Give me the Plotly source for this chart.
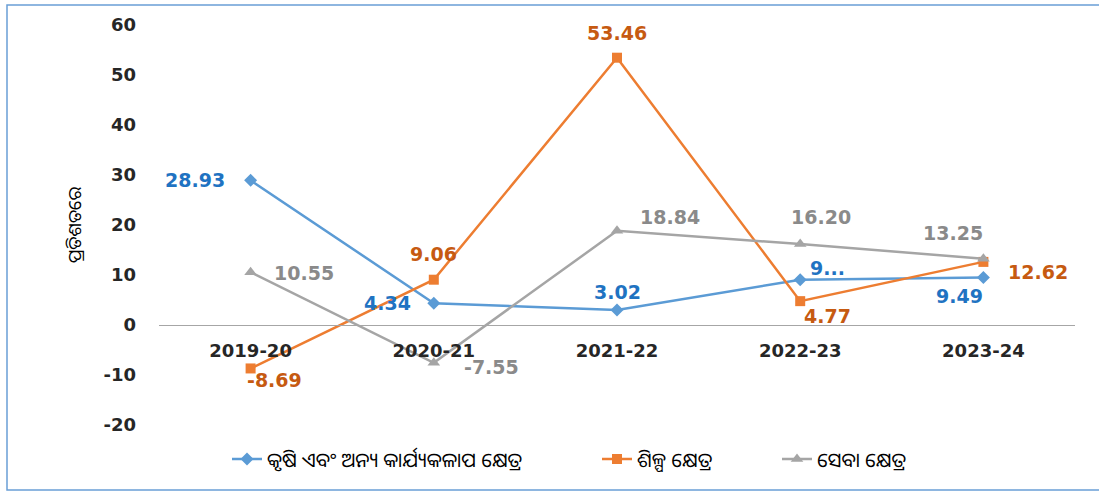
import plotly.graph_objects as go

years = ["2019-20", "2020-21", "2021-22", "2022-23", "2023-24"]
agri = [28.93, 4.34, 3.02, 9.04, 9.49]
agri_text = ["28.93", "4.34", "3.02", "9...", "9.49"]
industry = [-8.69, 9.06, 53.46, 4.77, 12.62]
industry_text = ["-8.69", "9.06", "53.46", "4.77", "12.62"]
services = [10.55, -7.55, 18.84, 16.20, 13.25]
services_text = ["10.55", "-7.55", "18.84", "16.20", "13.25"]
y_ticks = [-20, -10, 0, 10, 20, 30, 40, 50, 60]
y_tick_text = ["-20", "-10", "0", "10", "20", "30", "40", "50", "60"]

names = ["କୃଷି ଏବଂ ଅନ୍ୟ କାର୍ଯ୍ୟକଳାପ କ୍ଷେତ୍ର", "ଶିଳ୍ପ କ୍ଷେତ୍ର", "ସେବା କ୍ଷେତ୍ର"]
ytitle = "ପ୍ରତିଶତରେ"

FONT = "DejaVu Sans, Verdana, sans-serif"
ODIA = "Noto Sans Oriya, Noto Sans, DejaVu Sans, sans-serif"

L, R, T, B, W, H = 159, 24, 25, 67, 1099, 492
PW, PH = W - L - R, H - T - B


def px_x(p):
    return (p - L) / PW


def px_y(p):
    return (H - B - p) / PH


fig = go.Figure()
fig.add_trace(go.Scatter(x=years, y=agri, name=names[0], mode="lines+markers", legend="legend",
                         line=dict(color="#5B9BD5", width=2.5),
                         marker=dict(symbol="diamond", size=10, color="#5B9BD5")))
fig.add_trace(go.Scatter(x=years, y=industry, name=names[1], mode="lines+markers", legend="legend2",
                         line=dict(color="#ED7D31", width=2.5),
                         marker=dict(symbol="square", size=10, color="#ED7D31")))
fig.add_trace(go.Scatter(x=years, y=services, name=names[2], mode="lines+markers", legend="legend3",
                         line=dict(color="#A5A5A5", width=2.5),
                         marker=dict(symbol="triangle-up", size=11, color="#A5A5A5")))

# label offsets (pixels) for each series
agri_off = [(-56, 0), (-46, 0), (0, 18), (27, 12), (-24, -18)]
ind_off = [(24, -12), (0, 26), (0, 25), (27, -15), (55, -10)]
srv_off = [(53, -1), (58, -4), (53, 14), (21, 27), (-30, 26)]

for vals, texts, offs, col in [(agri, agri_text, agri_off, "#1F73C2"),
                               (industry, industry_text, ind_off, "#C65A11"),
                               (services, services_text, srv_off, "#8A8A8A")]:
    for x, v, t, (dx, dy) in zip(years, vals, texts, offs):
        fig.add_annotation(x=x, y=v, text=t, showarrow=False, xshift=dx, yshift=dy,
                           font=dict(family=FONT, size=19, color=col, weight="bold"))

fig.add_annotation(xref="paper", yref="paper", x=px_x(74), y=px_y(225), text=ytitle,
                   textangle=-90, showarrow=False, xanchor="center", yanchor="middle",
                   font=dict(family=ODIA, size=18, color="#000000"))

# outer border
fig.add_shape(type="rect", xref="paper", yref="paper", x0=px_x(7), x1=px_x(1120),
              y0=px_y(490), y1=px_y(5),
              line=dict(color="#6A9FD6", width=1.5), layer="below")

leg_font = dict(family=ODIA, size=20, color="#000000")
leg_common = dict(orientation="h", yanchor="middle", y=px_y(459), xanchor="left",
                  font=leg_font, bgcolor="rgba(0,0,0,0)")

fig.update_layout(
    width=W, height=H,
    margin=dict(l=L, r=R, t=T, b=B),
    paper_bgcolor="white", plot_bgcolor="white",
    showlegend=True,
    legend=dict(x=px_x(227), **leg_common),
    legend2=dict(x=px_x(597), **leg_common),
    legend3=dict(x=px_x(777), **leg_common),
    xaxis=dict(anchor="free", position=0.25, range=[-0.5, 4.5],
               showline=True, linecolor="#A6A6A6", linewidth=1,
               showgrid=False, zeroline=False, ticks="", automargin=False,
               ticklabelstandoff=9,
               tickfont=dict(family=FONT, size=18, color="#262626", weight="bold")),
    yaxis=dict(range=[-20, 60], tickvals=y_ticks, ticktext=y_tick_text,
               showgrid=False, zeroline=False, showline=False, automargin=False,
               ticklabelstandoff=22,
               tickfont=dict(family=FONT, size=18, color="#262626", weight="bold")),
)

fig.write_html("out.html", config={"displayModeBar": False},
               post_script="document.body.style.margin='0px';")
